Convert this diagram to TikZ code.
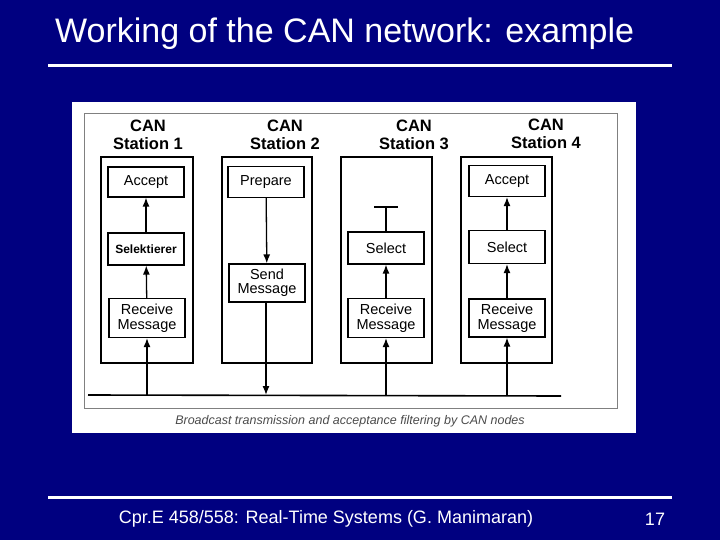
\documentclass[tikz,border=0pt]{standalone}
\usepackage{fontspec}
\setmainfont{Liberation Sans}
\usetikzlibrary{arrows.meta}
\begin{document}
\begin{tikzpicture}[x=1pt,y=-1pt,
  st/.style={draw=black,line width=1.2pt},
  bx/.style={draw=black,line width=1.2pt,minimum width=76pt,align=center,inner sep=1pt,font=\fontsize{14.5}{14.5}\selectfont},
  ttl/.style={align=center,font=\bfseries\fontsize{16.5}{18}\selectfont},
  ar/.style={line width=1.3pt,-{Latex[length=9pt,width=7pt]}}]
\fill[fill={rgb,255:red,0;green,0;blue,128}] (0,0) rectangle (720,540);
\useasboundingbox (0,0) rectangle (720,540);
\node[anchor=west,text=white,font=\fontsize{34}{34}\selectfont,inner sep=0pt] (title) at (55,34) {Working of the CAN network: example};
\draw[white,line width=3pt] (48,66) -- (672,66);
\draw[white,line width=3pt] (48,497) -- (672,497);
\node[text=white,font=\fontsize{18}{18}\selectfont] (foot) at (326,519) {Cpr.E 458/558: Real-Time Systems (G. Manimaran)};
\node[text=white,font=\fontsize{18}{18}\selectfont] (num) at (655,519) {17};
\fill[white] (72,102) rectangle (636,433);
\draw[gray,line width=0.6pt] (84,113) rectangle (617,408);
% stations
\draw[st] (101,157) rectangle (193,363);
\draw[st] (222,157) rectangle (312,363);
\draw[st] (341,157) rectangle (432,363);
\draw[st] (461,157) rectangle (552,363);
\node[ttl] (t1) at (148,135) {CAN\\Station 1};
\node[ttl] (t2) at (285,135) {CAN\\Station 2};
\node[ttl] (t3) at (414,135) {CAN\\Station 3};
\node[ttl] (t4) at (546,134) {CAN\\Station 4};
% station 1
\node[bx,minimum height=30pt] (a1) at (146,182) {Accept};
\node[bx,minimum height=32pt,font=\bfseries\fontsize{12}{12}\selectfont] (s1) at (146,249) {Selektierer};
\node[bx,minimum height=39pt] (r1) at (147,318) {Receive\\Message};
% station 2
\node[bx,minimum height=31pt] (p2) at (266,182) {Prepare};
\node[bx,minimum height=38pt] (m2) at (267,283) {Send\\Message};
% station 3
\node[bx,minimum height=32pt] (s3) at (386,248) {Select};
\node[bx,minimum height=39pt] (r3) at (386,318) {Receive\\Message};
% station 4
\node[bx,minimum height=31pt] (a4) at (507,181) {Accept};
\node[bx,minimum height=33pt] (s4) at (507,247) {Select};
\node[bx,minimum height=38pt] (r4) at (507,318) {Receive\\Message};
% bus
\coordinate (bl) at (88,395);
\coordinate (br) at (561,396);
\draw[line width=1.6pt] (bl) -- (br);
\coordinate (b1) at (147,395);
\coordinate (b2) at (266,395);
\coordinate (b3) at (386,396);
\coordinate (b4) at (507,396);
\coordinate (tb) at (386,207);
\draw[ar] (b1) -- (r1);
\draw[ar] (r1) -- (s1);
\draw[ar] (s1) -- (a1);
\draw[ar] (p2) -- (m2);
\draw[ar] (m2.south -| b2) -- (b2);
\draw[ar] (b3) -- (r3);
\draw[ar] (r3) -- (s3);
\draw[line width=1.3pt] (s3) -- (tb);
\draw[line width=1.5pt] (374,207) -- (398,207);
\draw[ar] (b4) -- (r4);
\draw[ar] (r4) -- (s4);
\draw[ar] (s4) -- (a4);
\node[text=black!70,font=\itshape\fontsize{12.5}{12.5}\selectfont] (cap) at (350,421) {Broadcast transmission and acceptance filtering by CAN nodes};
\end{tikzpicture}
\end{document}
